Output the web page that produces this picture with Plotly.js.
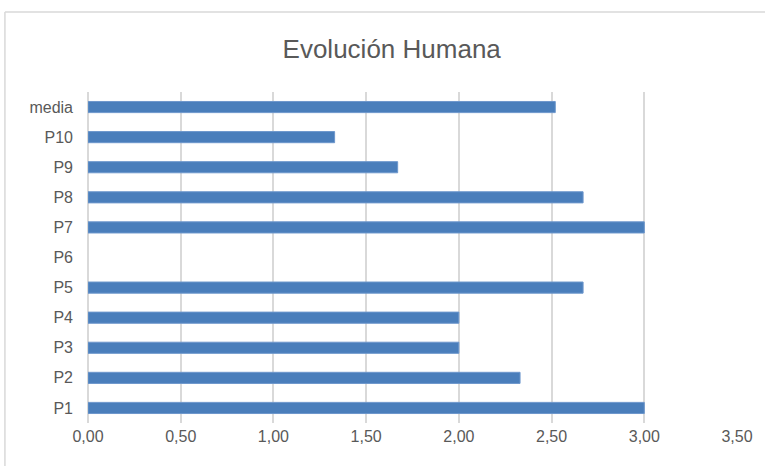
<!DOCTYPE html>
<html><head><meta charset="utf-8">
<script src="https://cdn.plot.ly/plotly-3.0.1.min.js"></script>
<style>html,body{margin:0;padding:0;background:#fff}#c{width:765px;height:466px}</style>
</head><body><div id="c"></div>
<script>
const categories = ["P1","P2","P3","P4","P5","P6","P7","P8","P9","P10","media"];
const values = [3.00, 2.33, 2.00, 2.00, 2.67, null, 3.00, 2.67, 1.67, 1.33, 2.52];
const xTicks = [0,0.5,1,1.5,2,2.5,3,3.5];
const xTickLabels = ["0,00","0,50","1,00","1,50","2,00","2,50","3,00","3,50"];

const font = "Liberation Sans, Arial, sans-serif";
const trace = {
  type: "bar", orientation: "h", y: categories, x: values,
  marker: {color: "#4a7ebb", line: {color: "#6d97cc", width: 1}},
  hoverinfo: "skip"
};
const layout = {
  width: 765, height: 466,
  margin: {l: 88, r: 28, t: 92, b: 43},
  paper_bgcolor: "#fff", plot_bgcolor: "#fff",
  title: {text: "Evolución Humana", x: 0.512, xanchor: "center", y: 0.895, yanchor: "middle",
          font: {family: font, size: 26, color: "#595959"}},
  bargap: 0.63,
  showlegend: false,
  xaxis: {range: [0, 3.5], tickvals: xTicks, ticktext: xTickLabels,
          showgrid: true, gridcolor: "#d9d9d9", gridwidth: 2,
          zeroline: true, zerolinecolor: "#d9d9d9", zerolinewidth: 2,
          showline: false, ticks: "", ticklabelstandoff: 2,
          tickfont: {family: font, size: 16, color: "#595959"}, fixedrange: true},
  yaxis: {type: "category", categoryorder: "array", categoryarray: categories,
          showgrid: false, zeroline: false, showline: false, ticks: "",
          ticklabelstandoff: 14,
          tickfont: {family: font, size: 16, color: "#595959"}, fixedrange: true},
  shapes: [
    {type: "line", xref: "paper", yref: "paper", x0: -0.128, x1: 1.2, y0: 1.2417, y1: 1.2417,
     line: {color: "#d9d9d9", width: 1.5}},
    {type: "line", xref: "paper", yref: "paper", x0: -0.128, x1: -0.128, y0: -0.3, y1: 1.2417,
     line: {color: "#d9d9d9", width: 1.5}}
  ]
};
Plotly.newPlot("c", [trace], layout, {displayModeBar: false, staticPlot: true});
</script></body></html>
